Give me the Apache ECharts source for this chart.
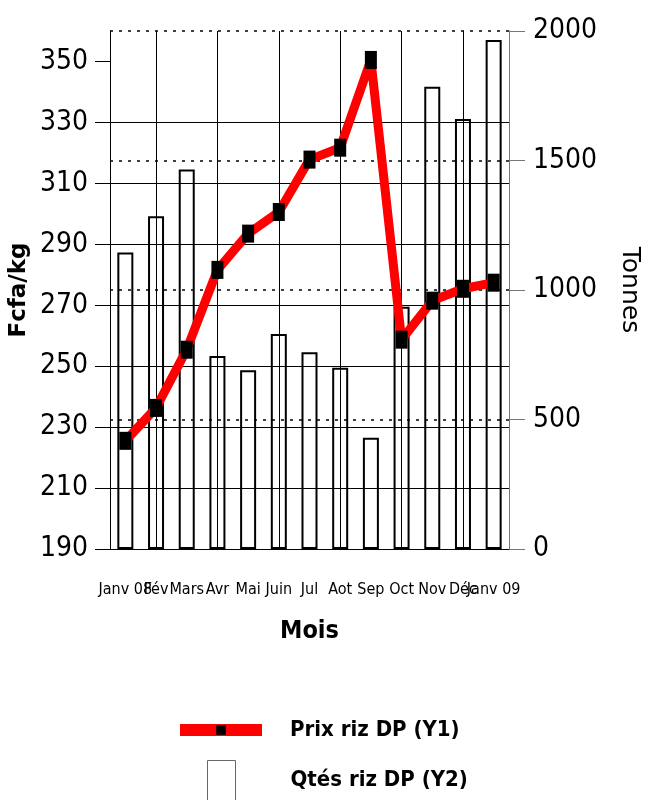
<!DOCTYPE html>
<html><head><meta charset="utf-8">
<script src="https://cdn.jsdelivr.net/npm/echarts@6/dist/echarts.min.js"></script>
<style>html,body{margin:0;padding:0;background:#fff}#c{width:646px;height:800px}</style>
</head><body><div id="c"></div>
<script>
const months = ['Janv 08','Fév','Mars','Avr','Mai','Juin','Jul','Aot','Sep','Oct','Nov','Déc','Janv 09'];
const prix = [225.5,236.3,255.4,281.6,293.5,300.6,317.8,321.7,350.5,258.7,271.5,275.4,277.4];
const qtes = [1145,1285,1465,745,690,830,760,700,430,935,1785,1660,1965];
const leftTicks = [190,210,230,250,270,290,310,330,350];
const rightTicks = [0,500,1000,1500,2000];
const seriesNames = ['Prix riz DP (Y1)','Qtés riz DP (Y2)'];

const NF = '"Liberation Sans Narrow","Arial Narrow","DejaVu Sans Condensed",sans-serif';
const WF = '"DejaVu Sans",sans-serif';
const chart = echarts.init(document.getElementById('c'), null, {renderer:'canvas'});
chart.setOption({
  animation:false,
  backgroundColor:'#fff',
  grid:{left:110, right:137, top:31, bottom:251, containLabel:false, outerBoundsMode:'none'},
  legend:[
    {data:[seriesNames[0]], left:174, top:719, padding:0, itemWidth:82, itemHeight:12,
     lineStyle:{width:12, color:'#ff0000'},
     textStyle:{fontSize:22, fontWeight:'bold', color:'#000', fontFamily:NF, padding:[0,0,0,23]}},
    {data:[{name:seriesNames[1], itemStyle:{color:'rgba(0,0,0,0)', borderColor:'#666', borderWidth:1}}],
     icon:'rect', left:207, top:760, padding:0, itemWidth:28, itemHeight:40,
     textStyle:{fontSize:22, fontWeight:'bold', color:'#000', fontFamily:NF, padding:[0,0,0,50]}}
  ],
  xAxis:{
    type:'category', data:months, boundaryGap:true,
    axisLine:{lineStyle:{color:'#000', width:1}},
    axisTick:{alignWithLabel:true, length:10, lineStyle:{color:'#888'}},
    axisLabel:{interval:0, margin:33, color:'#000', fontSize:16, fontFamily:NF},
    splitLine:{show:true, alignWithLabel:true, interval:(i)=>i%2===1, lineStyle:{color:'#000', width:1}},
    name:'Mois', nameLocation:'middle', nameGap:70,
    nameTextStyle:{fontSize:25, fontWeight:'bold', color:'#000', fontFamily:NF}
  },
  yAxis:[
    {type:'value', position:'left', min:leftTicks[0], max:360, interval:20,
     axisLine:{show:true, lineStyle:{color:'#000', width:1}},
     axisTick:{show:true, length:15, lineStyle:{color:'#000'}, customValues:leftTicks},
     axisLabel:{fontSize:28, margin:22, color:'#000', fontFamily:NF, customValues:leftTicks},
     splitLine:{show:true, showMaxLine:false, lineStyle:{color:'#000', width:1}},
     name:'Fcfa/kg', nameLocation:'middle', nameGap:79, nameRotate:90, nameMoveOverlap:false,
     nameTextStyle:{fontSize:23, fontWeight:'bold', color:'#000', fontFamily:WF}},
    {type:'value', position:'right', min:rightTicks[0], max:rightTicks[rightTicks.length-1], interval:500,
     axisLine:{show:true, lineStyle:{color:'#777', width:1}},
     axisTick:{show:true, length:16, lineStyle:{color:'#777'}},
     axisLabel:{fontSize:28, margin:24, color:'#000', fontFamily:NF, formatter:(v)=>String(v)},
     splitLine:{show:true, showMinLine:false, lineStyle:{color:'#000', width:1.5, type:[3,6]}},
     name:'Tonnes', nameLocation:'middle', nameGap:108, nameRotate:-90,
     nameTextStyle:{fontSize:25, color:'#000', fontFamily:WF}}
  ],
  series:[
    {type:'bar', name:seriesNames[1], yAxisIndex:1, data:qtes, barWidth:16, z:2,
     itemStyle:{color:'rgba(0,0,0,0)', borderColor:'#000', borderWidth:2}},
    {type:'line', name:seriesNames[0], yAxisIndex:0, data:prix, z:3,
     lineStyle:{color:'#ff0000', width:9}, itemStyle:{color:'#000'},
     symbol:'rect', symbolSize:[12,18]}
  ]
});
</script></body></html>
